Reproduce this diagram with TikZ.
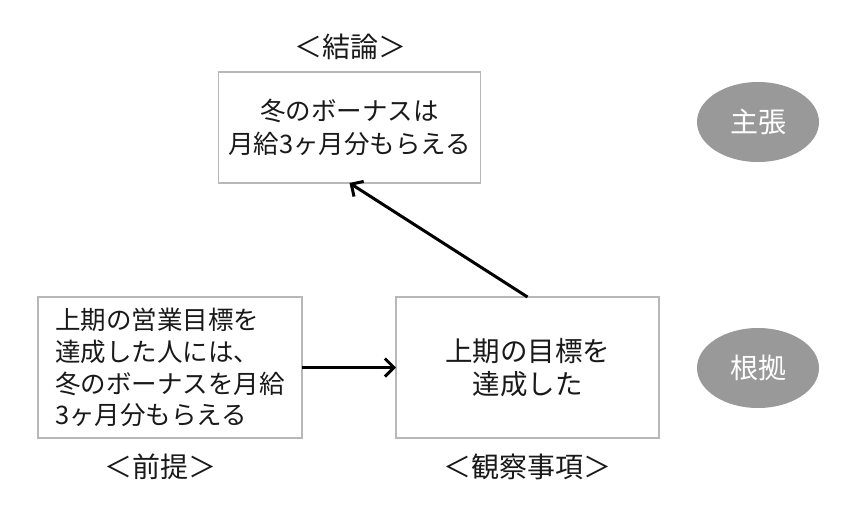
\documentclass[tikz,border=0pt]{standalone}
\usepackage{fontspec}
\newfontfamily\cjk{Noto Sans CJK JP}
\usetikzlibrary{arrows.meta,shapes.geometric}
\begin{document}
\begin{tikzpicture}[x=1pt,y=-1pt,
  box/.style={draw=black!28,line width=1.4pt,fill=white,inner sep=0pt,outer sep=0pt},
  txt/.style={font=\cjk\fontsize{25.5}{33}\selectfont,align=center,text=black!90},
  lbl/.style={font=\cjk\fontsize{28}{30}\selectfont,text=black!90},
  oval/.style={ellipse,fill=black!40,draw=none,minimum width=122pt,minimum height=80pt,inner sep=0pt,text=white,font=\cjk\fontsize{28}{30}\selectfont},
  conn/.style={line width=3pt,draw=black,-{Straight Barb[length=9pt,width=18pt,line width=3pt]}}
]
\useasboundingbox (0,0) rectangle (860,525);
\fill[white] (0,0) rectangle (860,525);
\node[box,minimum width=262pt,minimum height=111pt] (concl) at (349.5,127.5) {};
\node[txt] at (concl) {冬のボーナスは\\月給3ヶ月分もらえる};
\node[box,minimum width=264pt,minimum height=141pt] (prem) at (170,367.5) {};
\node[txt,align=left,font=\cjk\fontsize{25.5}{31.7}\selectfont] at (prem) {上期の営業目標を\\達成した人には、\\冬のボーナスを月給\\3ヶ月分もらえる};
\node[box,minimum width=263pt,minimum height=141pt] (obs) at (527.5,367.5) {};
\node[txt,font=\cjk\fontsize{27.5}{33}\selectfont] at (obs) {上期の目標を\\達成した};
\node[lbl] (lconcl) at (350,47) {＜結論＞};
\node[lbl] (lprem) at (160,467) {＜前提＞};
\node[lbl] (lobs) at (527,467) {＜観察事項＞};
\node[oval] (claim) at (758,122) {主張};
\node[oval] (basis) at (758,368) {根拠};
\draw[conn] (obs.north) -- (concl.south);
\draw[conn] (prem.east) -- (obs.west);
\end{tikzpicture}
\end{document}
